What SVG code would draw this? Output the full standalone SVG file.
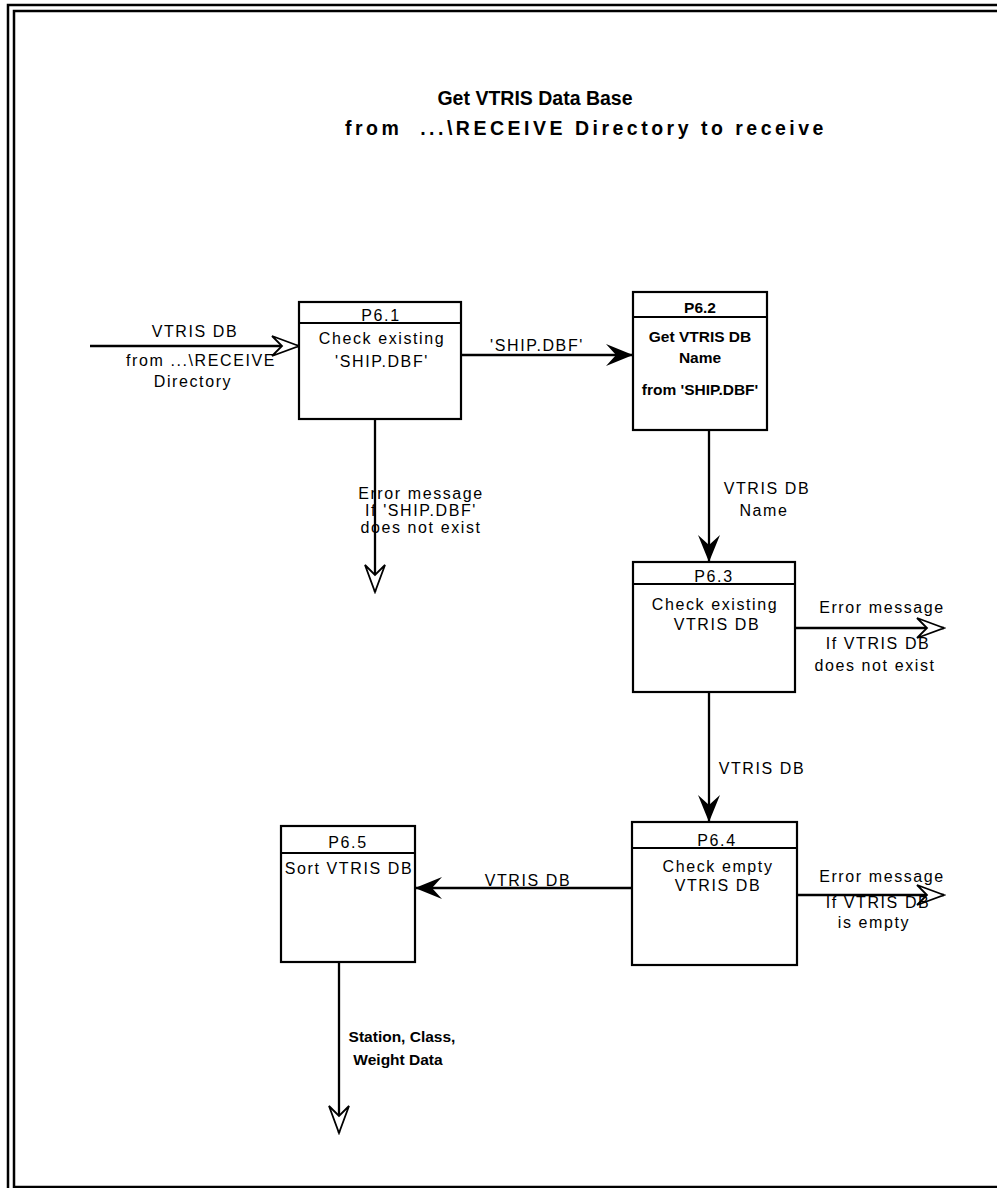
<svg xmlns="http://www.w3.org/2000/svg" width="997" height="1188" viewBox="0 0 997 1188">
<defs>
<style>
.frame{fill:none;stroke:#000;stroke-width:2.5}
.box{fill:#fff;stroke:#000;stroke-width:2.2}
.sep{stroke:#000;stroke-width:2.2}
.t{font-family:"Liberation Sans",Arial,sans-serif;font-size:16px;letter-spacing:1.6px;fill:#000;text-anchor:middle}
.b{font-family:"Liberation Sans",Arial,sans-serif;font-size:15.5px;font-weight:bold;fill:#000;text-anchor:middle}
.title{font-family:"Liberation Sans",Arial,sans-serif;font-size:19.5px;font-weight:bold;fill:#000;text-anchor:middle}
.c{fill:none;stroke:#000;stroke-width:2.3}
.cf{marker-end:url(#af)}
.co{marker-end:url(#ao)}
</style>
<marker id="af" markerUnits="userSpaceOnUse" viewBox="-30 -14 32 28" refX="0" refY="0" markerWidth="32" markerHeight="28" orient="auto">
<path d="M0,0 L-27,-11 L-17,0 L-27,11 Z" fill="#000"/>
</marker>
<marker id="ao" markerUnits="userSpaceOnUse" viewBox="-30 -14 32 28" refX="0" refY="0" markerWidth="32" markerHeight="28" orient="auto">
<path d="M0,0 L-27,-10 L-17,0 L-27,10 Z" fill="#fff" stroke="#000" stroke-width="1.8" stroke-linejoin="miter"/>
</marker>
</defs>
<rect width="997" height="1188" fill="#fff"/>
<g id="frame">
<rect class="frame" x="8" y="5" width="1000" height="1200"/>
<rect class="frame" x="14" y="11" width="1000" height="1176"/>
</g>
<g id="title">
<text class="title" x="535" y="105">Get VTRIS Data Base</text>
<text class="title" x="586" y="135" font-size="20.5" letter-spacing="3.5" xml:space="preserve">from  ...\RECEIVE Directory to receive</text>
</g>
<g id="connectors">
<path class="c co" d="M90,346 L299,346"/>
<path class="c cf" d="M461,355 L633,355"/>
<path class="c co" d="M375,419 L375,592"/>
<path class="c cf" d="M709,430 L709,562"/>
<path class="c co" d="M795,628 L944,628"/>
<path class="c cf" d="M709,692 L709,822"/>
<path class="c co" d="M797,895 L944,895"/>
<path class="c cf" d="M632,888 L415,888"/>
<path class="c co" d="M339,962 L339,1133"/>
<text class="t" x="195" y="337">VTRIS DB</text>
<text class="t" x="201" y="366">from ...\RECEIVE</text>
<text class="t" x="193" y="387">Directory</text>
<text class="t" x="537" y="351">'SHIP.DBF'</text>
<text class="t" x="421" y="499">Error message</text>
<text class="t" x="421" y="516">If 'SHIP.DBF'</text>
<text class="t" x="421" y="533">does not exist</text>
<text class="t" x="767" y="494">VTRIS DB</text>
<text class="t" x="764" y="516">Name</text>
<text class="t" x="882" y="613">Error message</text>
<text class="t" x="878" y="649">If VTRIS DB</text>
<text class="t" x="875" y="671">does not exist</text>
<text class="t" x="762" y="774">VTRIS DB</text>
<text class="t" x="882" y="882">Error message</text>
<text class="t" x="878" y="908">If VTRIS DB</text>
<text class="t" x="874" y="928">is empty</text>
<text class="t" x="528" y="886">VTRIS DB</text>
<text class="b" x="402" y="1042">Station, Class,</text>
<text class="b" x="398" y="1065">Weight Data</text>
</g>
<g id="P6.1">
<rect class="box" x="299" y="302" width="162" height="117"/>
<line class="sep" x1="299" y1="323" x2="461" y2="323"/>
<text class="t" x="381" y="321">P6.1</text>
<text class="t" x="382" y="344">Check existing</text>
<text class="t" x="382" y="367">'SHIP.DBF'</text>
</g>
<g id="P6.2">
<rect class="box" x="633" y="292" width="134" height="138"/>
<line class="sep" x1="633" y1="317" x2="767" y2="317"/>
<text class="b" x="700" y="313">P6.2</text>
<text class="b" x="700" y="342">Get VTRIS DB</text>
<text class="b" x="700" y="363">Name</text>
<text class="b" x="700" y="395">from 'SHIP.DBF'</text>
</g>
<g id="P6.3">
<rect class="box" x="633" y="562" width="162" height="130"/>
<line class="sep" x1="633" y1="584" x2="795" y2="584"/>
<text class="t" x="714" y="582">P6.3</text>
<text class="t" x="715" y="610">Check existing</text>
<text class="t" x="717" y="630">VTRIS DB</text>
</g>
<g id="P6.4">
<rect class="box" x="632" y="822" width="165" height="143"/>
<line class="sep" x1="632" y1="848" x2="797" y2="848"/>
<text class="t" x="717" y="846">P6.4</text>
<text class="t" x="718" y="872">Check empty</text>
<text class="t" x="718" y="891">VTRIS DB</text>
</g>
<g id="P6.5">
<rect class="box" x="281" y="826" width="134" height="136"/>
<line class="sep" x1="281" y1="853" x2="415" y2="853"/>
<text class="t" x="348" y="848">P6.5</text>
<text class="t" x="349" y="874">Sort VTRIS DB</text>
</g>
</svg>
